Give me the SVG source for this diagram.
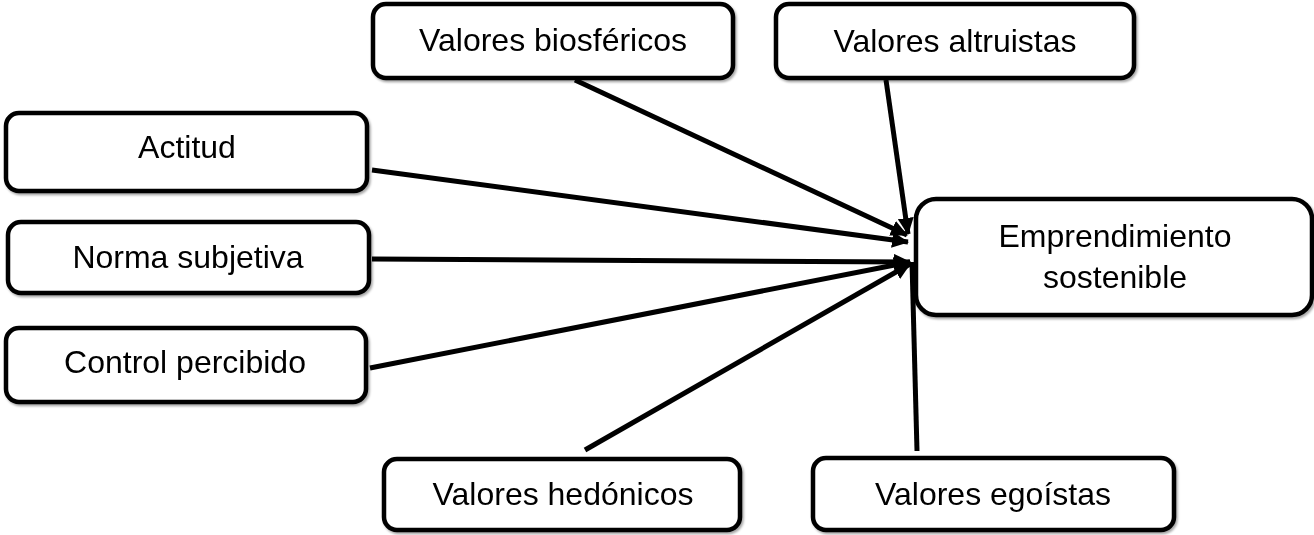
<svg xmlns="http://www.w3.org/2000/svg" width="1314" height="535" viewBox="0 0 1314 535">
<style>
.box{fill:#fff;stroke:#000;stroke-width:4.5}
.lbl{font-family:"Liberation Sans",Arial,sans-serif;font-size:32px;fill:#000;text-anchor:middle}
.con{stroke:#000;stroke-width:5;fill:none;marker-end:url(#ah)}
</style>
<defs>
<marker id="ah" markerUnits="userSpaceOnUse" markerWidth="18" markerHeight="16" refX="16" refY="8" orient="auto">
<path d="M0,0 L17,8 L0,16 Z" fill="#000"/>
</marker>
<filter id="sh" x="-5%" y="-5%" width="110%" height="115%">
<feDropShadow dx="1.5" dy="2" stdDeviation="1.2" flood-color="#000" flood-opacity="0.35"/>
</filter>
</defs>
<rect width="1314" height="535" fill="#fff"/>
<g id="connectors">
<line class="con" x1="575" y1="80" x2="907" y2="235"/>
<line class="con" x1="886" y1="80" x2="908" y2="234"/>
<line class="con" x1="372" y1="170" x2="908" y2="242"/>
<line class="con" x1="372" y1="259" x2="910" y2="262"/>
<line class="con" x1="370" y1="368" x2="910" y2="262"/>
<line class="con" x1="585" y1="450" x2="910" y2="264"/>
<line stroke="#000" stroke-width="5" x1="917" y1="451" x2="912" y2="262"/>
</g>
<g id="n-biosfericos" filter="url(#sh)">
<rect class="box" x="373" y="4" width="360" height="74" rx="13"/>
<text class="lbl" x="553" y="51">Valores biosféricos</text>
</g>
<g id="n-altruistas" filter="url(#sh)">
<rect class="box" x="776" y="4" width="358" height="74" rx="13"/>
<text class="lbl" x="955" y="52">Valores altruistas</text>
</g>
<g id="n-actitud" filter="url(#sh)">
<rect class="box" x="6" y="113" width="361" height="78" rx="13"/>
<text class="lbl" x="187" y="158">Actitud</text>
</g>
<g id="n-norma" filter="url(#sh)">
<rect class="box" x="8" y="222" width="361" height="71" rx="13"/>
<text class="lbl" x="188" y="268">Norma subjetiva</text>
</g>
<g id="n-control" filter="url(#sh)">
<rect class="box" x="6" y="328" width="360" height="74" rx="13"/>
<text class="lbl" x="185" y="373">Control percibido</text>
</g>
<g id="n-emprendimiento" filter="url(#sh)">
<rect class="box" x="916" y="199" width="396" height="116" rx="20"/>
<text class="lbl" x="1115" y="247">Emprendimiento</text>
<text class="lbl" x="1115" y="288">sostenible</text>
</g>
<g id="n-hedonicos" filter="url(#sh)">
<rect class="box" x="384" y="459" width="356" height="71" rx="13"/>
<text class="lbl" x="563" y="505">Valores hedónicos</text>
</g>
<g id="n-egoistas" filter="url(#sh)">
<rect class="box" x="813" y="458" width="361" height="72" rx="13"/>
<text class="lbl" x="993" y="505">Valores egoístas</text>
</g>
</svg>
